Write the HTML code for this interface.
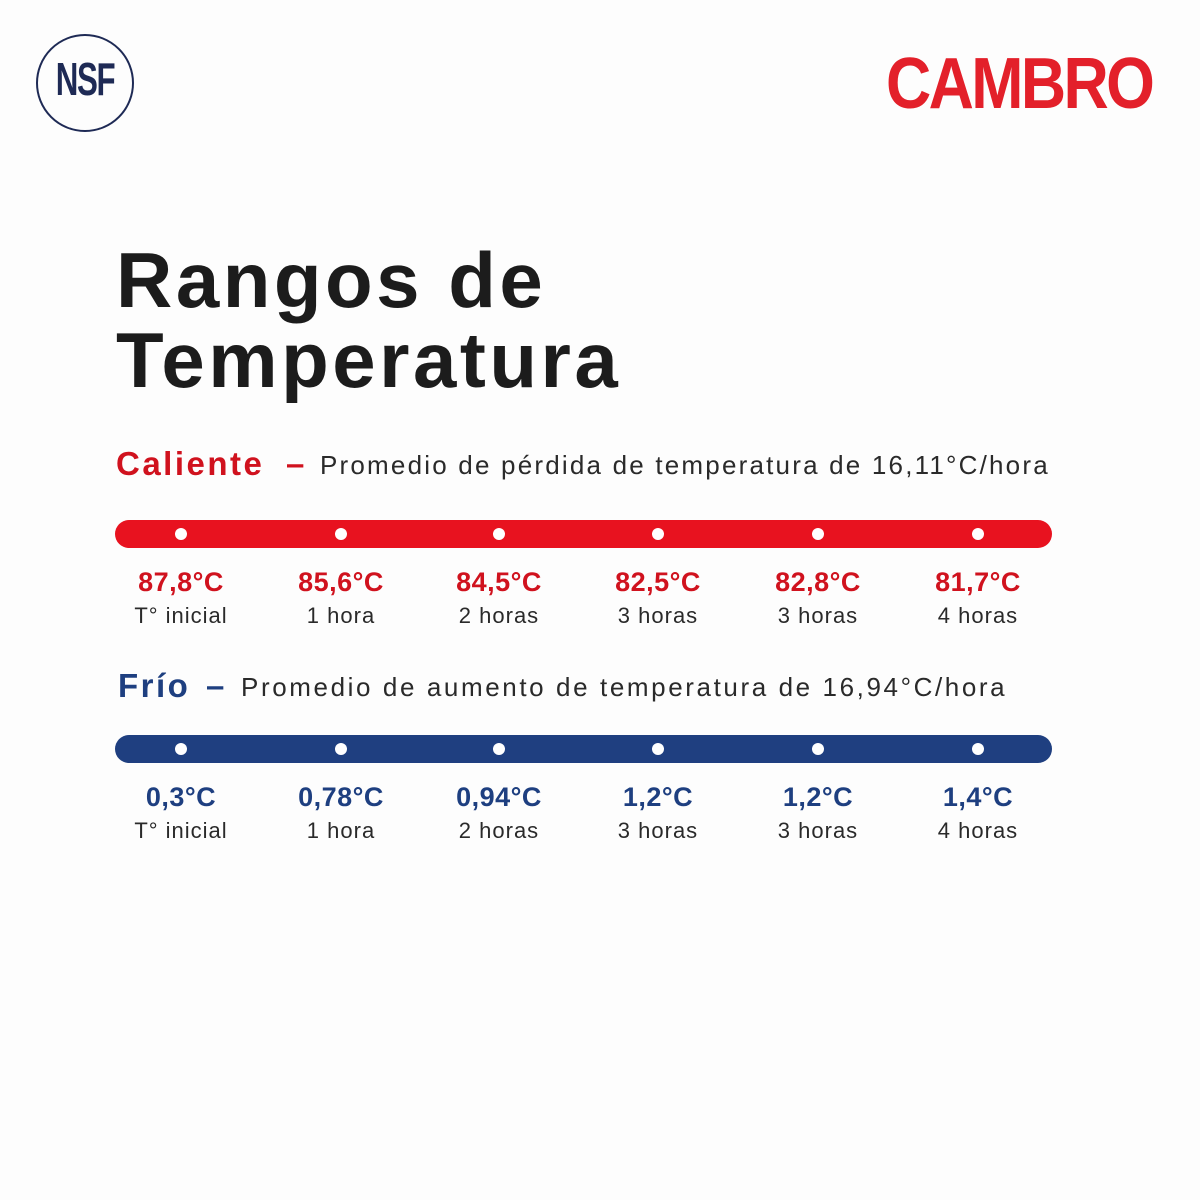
<!DOCTYPE html>
<html><head><meta charset="utf-8"><style>
body{margin:0;width:1200px;height:1200px;background:#fdfdfd;font-family:"Liberation Sans",sans-serif;position:relative;overflow:hidden}
.abs{position:absolute}
.title{left:116px;font-size:78px;font-weight:bold;color:#1c1c1c;letter-spacing:3.5px;line-height:1}
.head{font-size:33px;font-weight:bold;white-space:nowrap;letter-spacing:2.5px;line-height:1}
.sub{font-size:26px;color:#2a2a2a;white-space:nowrap;letter-spacing:2.2px;line-height:1}
.bar{left:115px;width:937px;height:28px;border-radius:14px}
.dot{width:12px;height:12px;border-radius:50%;background:#fff;margin-left:-6px;margin-top:-6px}
.val{font-size:27px;font-weight:bold;width:180px;margin-left:-90px;text-align:center;letter-spacing:0.5px}
.lab{font-size:22px;color:#2a2a2a;width:180px;margin-left:-90px;text-align:center;letter-spacing:1px}
</style></head><body>
<div class="abs" style="left:36px;top:34px;width:98px;height:98px;border:2px solid #1e2a55;border-radius:50%;box-sizing:border-box"></div>
<div class="abs" style="left:36px;top:56px;width:98px;text-align:center;font-weight:bold;font-size:46px;color:#1e2a55;letter-spacing:-2px;transform:scaleX(0.68);line-height:1">NSF</div>
<div class="abs" style="left:886px;top:48px;font-size:72px;font-weight:bold;color:#e3202a;letter-spacing:-3px;line-height:1;transform:scaleX(0.87);transform-origin:left">CAMBRO</div>
<div class="abs title" style="top:241px">Rangos de</div>
<div class="abs title" style="top:321px">Temperatura</div>
<div class="abs head" style="left:116px;top:447px;color:#d0121e">Caliente</div>
<div class="abs head" style="left:286px;top:447px;color:#d0121e">–</div>
<div class="abs sub" style="left:320px;top:452px">Promedio de pérdida de temperatura de 16,11°C/hora</div>
<div class="abs head" style="left:118px;top:669px;color:#1e3f80">Frío</div>
<div class="abs head" style="left:206px;top:669px;color:#1e3f80">–</div>
<div class="abs sub" style="left:241px;top:674px;letter-spacing:2.6px">Promedio de aumento de temperatura de 16,94°C/hora</div>
<div class="abs bar" style="top:520px;background:#e8121f"></div>
<div class="abs bar" style="top:735px;background:#1f3f80"></div>
<script>
const xs=[181,341,499,658,818,978];
const hotValues=["87,8°C","85,6°C","84,5°C","82,5°C","82,8°C","81,7°C"];
const coldValues=["0,3°C","0,78°C","0,94°C","1,2°C","1,2°C","1,4°C"];
const labels=["T° inicial","1 hora","2 horas","3 horas","3 horas","4 horas"];
function add(cls,x,y,txt,color,name){
  const d=document.createElement('div');
  d.className='abs '+cls;
  d.style.left=x+'px';d.style.top=y+'px';
  if(color)d.style.color=color;
  if(txt)d.textContent=txt;
  
  
  document.body.appendChild(d);
}
xs.forEach((x,i)=>{
  add('dot',x,534,'',null,'hot-dot');
  add('val',x,567,hotValues[i],'#d0121e','hot-value');
  add('lab',x,603,labels[i],null,'hot-label');
  add('dot',x,749,'',null,'cold-dot');
  add('val',x,782,coldValues[i],'#1e3f80','cold-value');
  add('lab',x,818,labels[i],null,'cold-label');
});
</script>
</body></html>
